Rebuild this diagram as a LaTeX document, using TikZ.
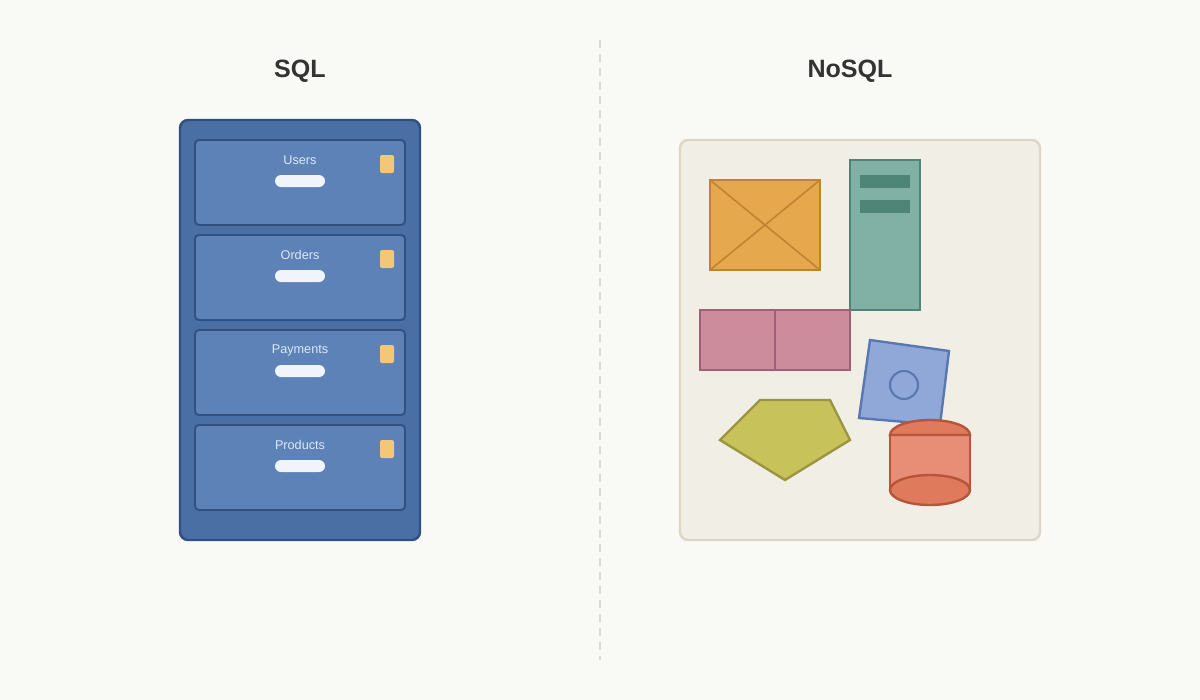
\documentclass[tikz,border=0pt]{standalone}
\usepackage{fontspec}
\setmainfont{Liberation Sans}
\usetikzlibrary{calc}
\definecolor{bgc}{HTML}{F9F9F5}
\definecolor{divc}{HTML}{D9D9D9}
\definecolor{titlec}{HTML}{333333}
\definecolor{cabfill}{HTML}{4A6FA5}
\definecolor{cabline}{HTML}{2F5080}
\definecolor{drwfill}{HTML}{5D82B7}
\definecolor{lblc}{HTML}{DCE8F7}
\definecolor{handc}{HTML}{F1F4FA}
\definecolor{tabc}{HTML}{F2C878}
\definecolor{panfill}{HTML}{F1EFE5}
\definecolor{panline}{HTML}{DCD6C4}
\definecolor{orfill}{HTML}{E5A84D}
\definecolor{orline}{HTML}{C0832F}
\definecolor{grfill}{HTML}{80B1A4}
\definecolor{grline}{HTML}{4E8576}
\definecolor{pkfill}{HTML}{CC8C9C}
\definecolor{pkline}{HTML}{A06075}
\definecolor{blfill}{HTML}{8FA8D8}
\definecolor{blline}{HTML}{5A78B0}
\definecolor{ylfill}{HTML}{C8C25A}
\definecolor{ylline}{HTML}{9A9540}
\definecolor{cybody}{HTML}{E88E76}
\definecolor{cyend}{HTML}{E07A5C}
\definecolor{cyline}{HTML}{B5553A}
\tikzset{
  title/.style={font=\fontsize{18.8}{22}\selectfont\bfseries, text=titlec},
  drawer/.style={draw=cabline, fill=drwfill, line width=1.4pt, rounded corners=3pt},
  lbl/.style={font=\fontsize{9.5}{11}\selectfont, text=lblc},
  handle/.style={fill=handc, rounded corners=4.5pt},
  tab/.style={fill=tabc, rounded corners=1.5pt},
  shp/.style={line width=1.8pt, line join=miter},
}
\begin{document}
\begin{tikzpicture}[x=0.75pt,y=-0.75pt]
\fill[bgc] (0,0) rectangle (1200,700);
\useasboundingbox (0,0) rectangle (1200,700);
% divider
\coordinate (dtop) at (600,40);
\coordinate (dbot) at (600,660);
\draw[divc, line width=1.2pt, dash pattern=on 6pt off 4.5pt] (dtop) -- (dbot);
% titles
\node[title] (tsql) at (300,71) {SQL};
\node[title] (tnosql) at (850,71) {NoSQL};
% cabinet
\draw[fill=cabfill, draw=cabline, line width=1.8pt, rounded corners=6pt] (180,120) rectangle (420,540);
\foreach \y/\t in {140/Users, 235/Orders, 330/Payments, 425/Products}{
  \draw[drawer] (195,\y) rectangle (405,\y+85);
  \node[lbl] at (300,\y+20) {\t};
  \fill[handle] (275,\y+35) rectangle (325,\y+47);
  \fill[tab] (380,\y+15) rectangle (394,\y+33);
}
% NoSQL panel
\draw[fill=panfill, draw=panline, line width=1.8pt, rounded corners=6pt] (680,140) rectangle (1040,540);
% orange box
\draw[shp, fill=orfill, draw=orline] (710,180) rectangle (820,270);
\draw[orline, line width=1.2pt] (710,180) -- (820,270) (820,180) -- (710,270);
% green column
\draw[shp, fill=grfill, draw=grline] (850,160) rectangle (920,310);
\fill[grline] (860,175) rectangle (910,188);
\fill[grline] (860,200) rectangle (910,213);
% pink box
\draw[shp, fill=pkfill, draw=pkline] (700,310) rectangle (850,370);
\draw[pkline, line width=1.4pt] (775,310) -- (775,370);
% blue rotated square
\draw[shp, fill=blfill, draw=blline] (870,340) -- (949,351) -- (940,425) -- (859,418) -- cycle;
\draw[blline, line width=1.6pt] (904,385) circle[radius=14];
% pentagon
\draw[shp, fill=ylfill, draw=ylline] (720,440) -- (760,400) -- (830,400) -- (850,440) -- (785,480) -- cycle;
% cylinder
\draw[shp, fill=cybody, draw=cyline] (890,490) -- (890,435) -- (970,435) -- (970,490);
\draw[shp, fill=cyend, draw=cyline] (930,490) ellipse[x radius=40, y radius=15];
\draw[shp, fill=cyend, draw=cyline] (890,435) arc[start angle=180, end angle=360, x radius=40, y radius=15] -- cycle;
\end{tikzpicture}
\end{document}
